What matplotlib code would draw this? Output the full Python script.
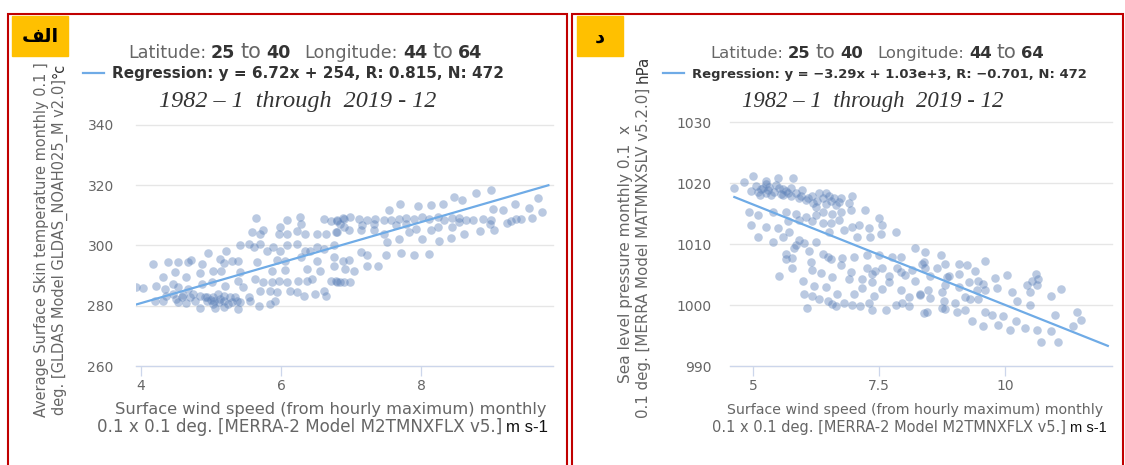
import numpy as np
import matplotlib
matplotlib.use("Agg")
import matplotlib.pyplot as plt
from matplotlib.patches import Rectangle
from matplotlib.lines import Line2D

# panel "الف": wind speed (m s-1) vs. skin temperature
pts_a = [
    (3.93, 286.3), (4.03, 285.9), (4.17, 293.9), (4.20, 281.7), (4.22, 286.7), (4.32, 289.7),
    (4.32, 281.7), (4.34, 285.6), (4.36, 283.3), (4.39, 294.4), (4.46, 287.2), (4.46, 283.9),
    (4.48, 291.1), (4.50, 282.2), (4.53, 294.4), (4.53, 286.1), (4.53, 281.1), (4.58, 282.8),
    (4.60, 283.5), (4.65, 289.4), (4.65, 281.0), (4.67, 294.4), (4.67, 285.6), (4.70, 282.8),
    (4.72, 295.2), (4.75, 284.0), (4.77, 281.7), (4.84, 290.8), (4.84, 283.3), (4.84, 279.2),
    (4.87, 293.9), (4.87, 287.2), (4.91, 282.8), (4.94, 281.7), (4.95, 283.0), (4.96, 297.4),
    (5.00, 282.0), (5.01, 287.8), (5.03, 291.4), (5.03, 282.8), (5.03, 280.6), (5.05, 281.5),
    (5.06, 279.4), (5.10, 283.8), (5.11, 281.1), (5.13, 295.6), (5.13, 282.2), (5.15, 291.4),
    (5.18, 294.1), (5.18, 283.3), (5.18, 281.7), (5.18, 279.7), (5.20, 286.7), (5.22, 298.1),
    (5.25, 280.6), (5.27, 282.8), (5.30, 295.0), (5.30, 281.2), (5.35, 283.0), (5.37, 281.7),
    (5.39, 295.0), (5.39, 288.3), (5.39, 278.9), (5.42, 300.0), (5.42, 291.1), (5.42, 281.1),
    (5.46, 286.1), (5.54, 300.6), (5.54, 282.8), (5.56, 281.7), (5.58, 304.4), (5.61, 299.4),
    (5.63, 288.9), (5.65, 309.2), (5.66, 294.4), (5.68, 280.0), (5.70, 303.9), (5.70, 300.6),
    (5.70, 285.0), (5.75, 305.0), (5.75, 287.8), (5.80, 298.3), (5.85, 285.0), (5.85, 280.6),
    (5.87, 291.7), (5.87, 287.8), (5.89, 299.4), (5.92, 281.7), (5.94, 295.2), (5.94, 284.4),
    (5.97, 303.9), (5.97, 288.3), (5.99, 306.3), (5.99, 298.3), (6.06, 295.0), (6.06, 291.9),
    (6.09, 308.3), (6.09, 303.9), (6.09, 300.0), (6.09, 287.8), (6.13, 285.0), (6.23, 304.8),
    (6.23, 300.6), (6.23, 284.4), (6.25, 288.3), (6.27, 309.4), (6.28, 307.2), (6.28, 296.1),
    (6.33, 283.3), (6.35, 303.9), (6.35, 298.3), (6.37, 292.2), (6.37, 288.3), (6.42, 298.3),
    (6.44, 288.9), (6.49, 283.9), (6.52, 303.9), (6.52, 299.4), (6.52, 295.0), (6.56, 291.7),
    (6.61, 308.9), (6.61, 298.9), (6.61, 285.0), (6.64, 303.9), (6.64, 283.3), (6.71, 308.1),
    (6.71, 288.3), (6.76, 300.0), (6.76, 296.1), (6.76, 293.3), (6.78, 304.4), (6.80, 308.1),
    (6.80, 287.8), (6.88, 309.2), (6.88, 295.0), (6.90, 306.1), (6.90, 287.8), (6.78, 288.3),
    (6.80, 308.3), (6.80, 304.4), (6.85, 307.2), (6.85, 287.8), (6.90, 308.9), (6.92, 292.2),
    (6.97, 305.0), (6.97, 295.2), (6.99, 309.4), (6.99, 288.0), (7.04, 291.4), (7.11, 308.9),
    (7.14, 305.0), (7.14, 297.8), (7.16, 306.7), (7.23, 308.6), (7.23, 296.7), (7.23, 293.3),
    (7.33, 307.2), (7.33, 305.2), (7.35, 308.9), (7.38, 293.3), (7.47, 308.6), (7.47, 303.9),
    (7.50, 296.7), (7.52, 301.1), (7.54, 311.9), (7.57, 308.3), (7.64, 306.7), (7.69, 308.9),
    (7.69, 302.2), (7.70, 313.7), (7.71, 297.4), (7.78, 309.2), (7.78, 307.2), (7.83, 304.4),
    (7.90, 308.9), (7.90, 297.0), (7.93, 305.6), (7.96, 313.0), (8.01, 309.4), (8.01, 302.2),
    (8.12, 308.9), (8.12, 297.2), (8.14, 305.0), (8.15, 313.6), (8.24, 309.4), (8.24, 306.1),
    (8.26, 301.4), (8.31, 313.9), (8.33, 308.6), (8.43, 302.6), (8.45, 309.2), (8.45, 306.1),
    (8.47, 316.1), (8.55, 309.2), (8.55, 307.8), (8.58, 315.2), (8.62, 303.9), (8.64, 308.6),
    (8.74, 308.3), (8.79, 317.4), (8.84, 304.8), (8.88, 308.9), (8.98, 307.2), (9.00, 318.3),
    (9.00, 308.3), (9.03, 312.2), (9.04, 305.2), (9.17, 311.9), (9.23, 307.4), (9.29, 308.1),
    (9.35, 313.9), (9.36, 308.9), (9.43, 308.9), (9.54, 312.6), (9.58, 309.2), (9.67, 315.9),
    (9.73, 311.1),
]

# panel "د": wind speed (m s-1) vs. sea level pressure (hPa)
pts_d = [
    (4.63, 1019.2), (4.83, 1020.2), (5.01, 1021.1), (5.26, 1020.3), (5.49, 1020.8), (5.80, 1020.9),
    (4.96, 1018.7), (5.09, 1018.6), (5.19, 1019.2), (5.32, 1019.4), (5.42, 1018.6), (5.52, 1019.2),
    (5.65, 1018.7), (5.69, 1018.4), (5.85, 1018.4), (5.98, 1018.9), (5.13, 1018.1), (5.26, 1018.4),
    (5.36, 1018.1), (5.59, 1018.1), (5.75, 1017.8), (5.92, 1017.5), (6.05, 1017.2), (6.18, 1017.8),
    (6.31, 1018.4), (6.44, 1018.4), (6.28, 1017.0), (6.38, 1017.5), (6.51, 1017.8), (6.61, 1017.5),
    (6.74, 1017.5), (6.25, 1016.1), (6.54, 1017.0), (6.64, 1016.4), (6.97, 1017.8),
    (5.05, 1019.5), (5.15, 1019.0), (5.30, 1018.8), (5.45, 1019.6), (5.60, 1019.0), (5.75, 1019.2),
    (5.95, 1017.8), (6.10, 1017.6), (6.20, 1016.8), (6.45, 1016.6), (6.70, 1016.9), (6.90, 1016.8),
    (5.25, 1019.8), (5.55, 1018.2),
    (4.93, 1015.3), (5.09, 1014.8), (5.39, 1015.3), (5.65, 1015.3), (5.85, 1015.0), (6.05, 1014.5),
    (6.25, 1014.8), (6.38, 1015.3), (6.57, 1015.0), (6.74, 1015.3), (6.94, 1015.6), (7.23, 1015.6),
    (7.50, 1014.3), (4.96, 1013.1), (5.26, 1012.8), (5.49, 1012.6), (5.69, 1013.7), (5.92, 1013.9),
    (6.18, 1013.7), (6.38, 1013.4), (6.54, 1013.4), (6.71, 1013.9), (6.97, 1012.8), (7.10, 1013.1),
    (7.30, 1012.7), (7.56, 1013.1), (5.09, 1011.2), (5.39, 1010.4), (5.59, 1011.2), (5.72, 1012.0),
    (5.92, 1010.6), (5.85, 1009.8), (5.82, 1009.3), (6.01, 1010.1), (6.25, 1010.4), (6.51, 1012.0),
    (6.81, 1012.3), (7.07, 1011.2), (7.33, 1011.2), (7.53, 1011.7), (7.83, 1011.9),
    (5.65, 1008.4), (5.78, 1007.7), (5.65, 1007.5), (6.11, 1008.8), (6.15, 1007.1), (6.38, 1008.4),
    (6.54, 1007.6), (6.48, 1007.9), (6.77, 1007.7), (7.00, 1007.9), (7.27, 1008.2), (7.50, 1008.2),
    (7.76, 1007.9), (7.93, 1007.9), (8.21, 1009.3), (5.78, 1006.1), (5.51, 1004.8), (6.00, 1004.0),
    (6.18, 1005.7), (6.34, 1005.3), (6.57, 1004.6), (6.74, 1006.5), (6.94, 1005.4), (6.90, 1004.3),
    (7.17, 1004.3), (7.27, 1006.0), (7.37, 1005.1), (7.43, 1005.5), (7.56, 1006.0), (7.69, 1004.8),
    (7.86, 1006.0), (7.93, 1005.4), (8.02, 1005.0), (8.16, 1005.7), (8.22, 1003.9), (8.39, 1007.1),
    (6.21, 1003.1), (6.44, 1002.9), (6.01, 1001.8), (6.18, 1001.5), (6.31, 1001.0), (6.48, 1000.7),
    (6.67, 1001.8), (6.81, 1000.4), (7.00, 1001.8), (7.17, 1002.8), (7.37, 1003.7), (7.40, 1001.5),
    (7.56, 1002.6), (7.69, 1003.7), (7.93, 1002.4), (8.09, 1001.3), (8.32, 1001.7),
    (6.08, 999.5), (6.57, 1000.2), (6.64, 999.8), (6.97, 1000.0), (7.13, 999.9), (7.30, 1000.4),
    (7.37, 999.1), (7.63, 999.1), (7.83, 1000.0), (7.96, 1000.4), (8.09, 999.9), (8.39, 998.7),
    (8.42, 1008.7), (8.74, 1008.2), (8.81, 1006.8), (8.35, 1006.8), (8.42, 1006.0), (8.65, 1006.0),
    (9.08, 1006.8), (9.24, 1006.5), (9.60, 1007.2), (9.41, 1005.5), (8.52, 1004.8), (8.85, 1004.6),
    (8.88, 1004.8), (9.08, 1005.1), (9.28, 1003.7), (9.47, 1004.0), (9.57, 1003.5), (9.80, 1004.4),
    (10.03, 1005.0), (10.43, 1003.2), (10.53, 1004.0), (10.61, 1005.1), (10.66, 1004.3),
    (10.63, 1003.2), (8.32, 1001.8), (8.48, 1002.4), (8.52, 1001.1), (8.75, 1002.1), (8.81, 1003.2),
    (9.08, 1002.9), (9.21, 1001.3), (9.31, 1001.0), (9.44, 1002.4), (9.47, 1001.0), (9.60, 1002.4),
    (9.84, 1002.8), (10.13, 1002.2), (10.49, 1002.2), (10.92, 1001.5), (11.11, 1002.6),
    (8.78, 1000.7), (9.01, 1000.4), (8.81, 999.3), (8.45, 998.8), (8.75, 999.5), (9.04, 998.9),
    (9.21, 999.2), (9.60, 998.8), (9.74, 998.3), (9.97, 998.2), (10.23, 1000.6), (10.49, 1000.0),
    (9.34, 997.4), (9.57, 996.6), (9.87, 996.7), (10.10, 995.9), (10.21, 997.4), (10.40, 996.3),
    (10.63, 995.9), (10.92, 995.8), (10.99, 998.3), (11.35, 996.6), (11.43, 998.8), (11.50, 997.6),
    (10.72, 994.0), (11.05, 994.0),
]

# regression line end points
reg_a_x = [3.93, 9.82]
reg_a_y = [280.4, 320.0]
reg_d_x = [4.63, 12.04]
reg_d_y = [1017.7, 993.3]

xticks_a = [4, 6, 8]
yticks_a = [260, 280, 300, 320, 340]
xticks_d = [5, 7.5, 10]
yticks_d = [990, 1000, 1010, 1020, 1030]

W, H = 1125, 465
GRAY = "#666666"
DARK = "#333333"
DOT = "#5b80b8"
LINE = "#6fabe6"

fig = plt.figure(figsize=(W / 100, H / 100), dpi=100)


def px_axes(left, top, right, bottom):
    return fig.add_axes([left / W, 1 - bottom / H, (right - left) / W, (bottom - top) / H])


def setup(ax, xlim, ylim, xticks, yticks, ypad):
    ax.set_xlim(*xlim)
    ax.set_ylim(*ylim)
    ax.set_xticks(xticks)
    ax.set_xticklabels([f"{t:g}" for t in xticks])
    ax.set_yticks(yticks)
    for s in ["top", "right", "left"]:
        ax.spines[s].set_visible(False)
    ax.spines["bottom"].set_color("#ccd6eb")
    ax.spines["bottom"].set_linewidth(0.9)
    ax.grid(axis="y", color="#e6e6e6", lw=1)
    for g in ax.get_ygridlines():
        g.set_clip_on(False)
    ax.set_axisbelow(True)
    ax.tick_params(axis="x", length=7.5, width=0.9, color="#ccd6eb",
                   labelcolor=GRAY, labelsize=10, pad=1.5)
    ax.tick_params(axis="y", length=0, labelcolor=GRAY, labelsize=10, pad=ypad)


def row(parts, start, end, base, vertical=False):
    # lay text pieces one after another and scale them to span start..end (px)
    r = fig.canvas.get_renderer()
    items = []
    for s, gap, kw in parts:
        t = fig.text(0, 0, s, ha="left", va="baseline", rotation=90 if vertical else 0,
                     rotation_mode="anchor", **kw)
        items.append((t, gap))

    def sizes():
        ext = [t.get_window_extent(r) for t, _ in items]
        return [e.height if vertical else e.width for e in ext]

    gaps = sum(g for _, g in items)
    k = (abs(end - start) - gaps) / sum(sizes())
    for t, _ in items:
        t.set_fontsize(t.get_fontsize() * k)
    step = -1 if vertical else 1
    pos = start
    for (t, gap), n in zip(items, sizes()):
        pos += step * gap
        if vertical:
            t.set_position((base / W, 1 - pos / H))
        else:
            t.set_position((pos / W, 1 - base / H))
        pos += step * n


ax1 = px_axes(136, 125, 553, 366)
setup(ax1, (3.929, 9.886), (260, 340), xticks_a, yticks_a, 16)
ax1.scatter(*np.array(pts_a).T, s=38, color=DOT, alpha=0.42, linewidths=0, zorder=2)
ax1.plot(reg_a_x, reg_a_y, color=LINE, lw=1.6, zorder=3)

ax2 = px_axes(730, 122, 1112, 366)
setup(ax2, (4.544, 12.123), (990, 1030), xticks_d, yticks_d, 13)
ax2.scatter(*np.array(pts_d).T, s=38, color=DOT, alpha=0.42, linewidths=0, zorder=2)
ax2.plot(reg_d_x, reg_d_y, color=LINE, lw=1.6, zorder=3)

# red frames around the two panels
for x0, x1 in [(8, 567), (572, 1123)]:
    fig.add_artist(Rectangle((x0 / W, -0.1), (x1 - x0) / W, 1.1 - 14 / H, fill=False,
                             ec="#c00000", lw=1.5, transform=fig.transFigure))

# yellow panel tags
for (x0, x1), tag in [((12, 68), "\ufed2\ufedf\ufe8d"), ((577, 623), "\u062f")]:
    fig.add_artist(Rectangle((x0 / W, 1 - 56 / H), (x1 - x0) / W, 40 / H, color="#ffc000",
                             transform=fig.transFigure))
    fig.text((x0 + x1) / 2 / W, 1 - 37 / H, tag, ha="center", va="center", fontsize=14,
             weight="bold", color="black", family=["DejaVu Sans"])

reg = dict(size=10, color=DARK, weight="bold")
plain = dict(size=10, color=GRAY)
big = dict(size=12, color=GRAY)
date = dict(size=14, color=DARK, style="italic", family="Liberation Serif")

for lat0, lat1, leg0, leg1, d0, d1, reg_txt in [
        (128, 482, 83, 507, 159, 436, "Regression: y = 6.72x + 254, R: 0.815, N: 472"),
        (710, 1046, 663, 1088, 742, 1003, "Regression: y = \u22123.29x + 1.03e+3, R: \u22120.701, N: 472")]:
    row([("Latitude:", 0, plain), ("25", 5, reg), ("to", 5, big), ("40", 5, reg),
         ("Longitude:", 14, plain), ("44", 5, reg), ("to", 5, big), ("64", 5, reg)],
        lat0, lat1, 58)
    fig.add_artist(Line2D([leg0 / W, (leg0 + 21) / W], [1 - 73 / H] * 2, color=LINE, lw=1.6))
    row([(reg_txt, 0, reg)], leg0 + 29, leg1, 78)
    row([("1982 \u2013 1  through  2019 - 12", 0, date)], d0, d1, 107)

unit = dict(size=10, color="#111111", family="Liberation Sans")
for l1a, l1b, l2a, l2b in [(115, 545, 97, 548), (727, 1103, 712, 1106)]:
    row([("Surface wind speed (from hourly maximum) monthly", 0, plain)], l1a, l1b, 414)
    row([("0.1 x 0.1 deg. [MERRA-2 Model M2TMNXFLX v5.]", 0, plain), ("m s-1", 4, unit)],
        l2a, l2b, 432)

row([("Average Surface Skin temperature monthly 0.1 ]", 0, plain)], 417, 63, 46, vertical=True)
row([("deg. [GLDAS Model GLDAS_NOAH025_M v2.0]", 0, plain), ("\u00b0c", 1, dict(size=10, color=DARK))],
    415, 62, 64, vertical=True)
row([("Sea level pressure monthly 0.1", 0, plain), ("x", 10, plain)], 383, 126, 630, vertical=True)
row([("0.1 deg. [MERRA Model MATMNXSLV v5.2.0]", 0, plain), ("hPa", 5, dict(size=10, color=DARK))],
    418, 55, 648, vertical=True)

fig.savefig("out.png", dpi=100)
